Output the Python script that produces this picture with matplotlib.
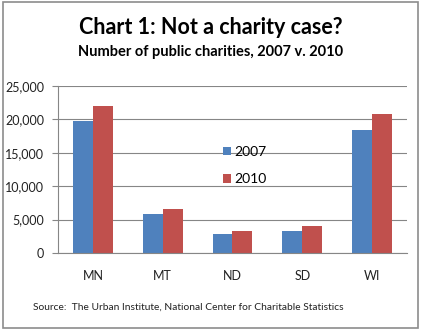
import matplotlib
matplotlib.use("Agg")
import matplotlib.pyplot as plt
import numpy as np
from matplotlib.patches import Rectangle

states = ["MN", "MT", "ND", "SD", "WI"]
v2007 = [19700, 5900, 2850, 3300, 18400]
v2010 = [22000, 6600, 3300, 4050, 20850]
yticks = [0, 5000, 10000, 15000, 20000, 25000]
ytick_labels = ["0", "5,000", "10,000", "15,000", "20,000", "25,000"]

plt.rcParams['font.family'] = ['Lato', 'DejaVu Sans']

W, H = 421, 331
fig = plt.figure(figsize=(W/100, H/100), dpi=100)
fig.patch.set_facecolor("white")

fig.add_artist(Rectangle((3/W, 3/H), 415/W, 326/H, transform=fig.transFigure,
                         fill=False, edgecolor="#8c8c8c", linewidth=1.2))

left, right, top, bottom = 58, 407, 86, 253
ax = fig.add_axes([left/W, 1-bottom/H, (right-left)/W, (bottom-top)/H])

x = np.arange(len(states))
bw = 0.286
ax.bar(x - bw/2, v2007, bw, color="#4f81bd", label="2007")
ax.bar(x + bw/2, v2010, bw, color="#c0504d", label="2010")

ax.set_xlim(-0.5, len(states)-0.5)
ax.set_ylim(0, 25000)
ax.set_yticks(yticks)
ax.set_yticklabels(ytick_labels)
ax.set_xticks(x)
ax.set_xticklabels(states)
ax.yaxis.grid(True, color="#868686", linewidth=0.8)
ax.set_axisbelow(True)
for s in ["top", "right"]:
    ax.spines[s].set_visible(False)
ax.spines["left"].set_color("#868686")
ax.spines["bottom"].set_color("#868686")
ax.tick_params(axis="y", length=4, color="#868686", labelsize=9, pad=6, labelcolor="#222222")
ax.tick_params(axis="x", length=0, labelsize=9, pad=12, labelcolor="#222222")

ax.legend(loc="upper left", bbox_to_anchor=((216-left)/(right-left), 1-(139-top)/(bottom-top)),
          frameon=False, fontsize=10, handlelength=0.6, handleheight=0.6,
          labelspacing=1.1, handletextpad=0.25, borderpad=0)

fig.text(0.5, 1-27/H, "Chart 1: Not a charity case?", ha="center", va="center",
         fontsize=15.5, fontweight="bold")
fig.text(0.5, 1-52/H, "Number of public charities, 2007 v. 2010", ha="center", va="center",
         fontsize=10.5, fontweight="bold")
fig.text(33/W, 1-307/H, "Source:  The Urban Institute, National Center for Charitable Statistics",
         ha="left", va="center", fontsize=7.4, color="#222222")

fig.savefig("out.png", dpi=100)
